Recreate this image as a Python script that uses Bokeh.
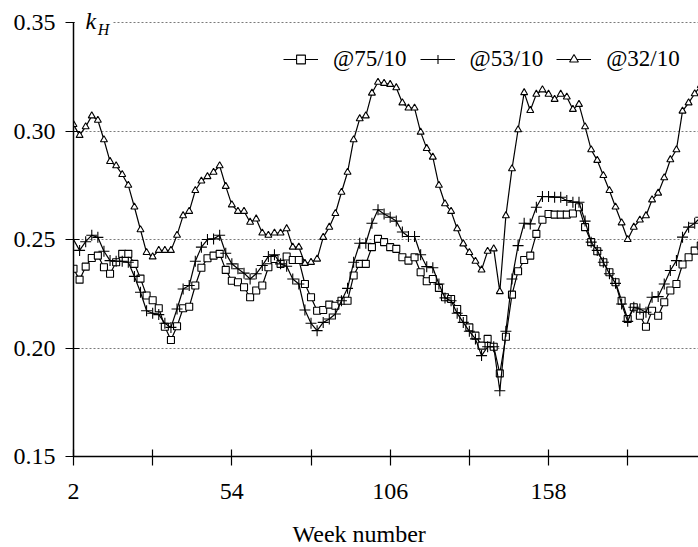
from bokeh.plotting import figure
from bokeh.models import (Range1d, FixedTicker, Legend, LegendItem, Label, Title,
                          BoxAnnotation, PrintfTickFormatter, ColumnDataSource)
from bokeh.embed import file_html
from bokeh.resources import INLINE

weeks = list(range(2, 210, 2))

k_75_10 = [0.2365, 0.2315, 0.2375, 0.2415, 0.2426, 0.2372, 0.2342, 0.2395, 0.2434, 0.2434,
           0.2388, 0.2320, 0.2242, 0.2220, 0.2183, 0.2098, 0.2037, 0.2100, 0.2183, 0.2190,
           0.2288, 0.2370, 0.2414, 0.2426, 0.2434, 0.2360, 0.2310, 0.2303, 0.2280, 0.2234,
           0.2265, 0.2288, 0.2372, 0.2410, 0.2388, 0.2422, 0.2406, 0.2406, 0.2295, 0.2234,
           0.2172, 0.2175, 0.2200, 0.2195, 0.2218, 0.2218, 0.2334, 0.2388, 0.2388, 0.2465,
           0.2503, 0.2488, 0.2465, 0.2457, 0.2418, 0.2403, 0.2418, 0.2349, 0.2308, 0.2318,
           0.2277, 0.2234, 0.2226, 0.2180, 0.2134, 0.2095, 0.2057, 0.2011, 0.2042, 0.2006,
           0.1883, 0.2052, 0.2246, 0.2354, 0.2406, 0.2426, 0.2526, 0.2591, 0.2618, 0.2615,
           0.2615, 0.2615, 0.2620, 0.2649, 0.2557, 0.2488, 0.2446, 0.2395, 0.2349, 0.2303,
           0.2218, 0.2134, 0.2188, 0.2149, 0.2098, 0.2172, 0.2149, 0.2211, 0.2265, 0.2295,
           0.2385, 0.2418, 0.2449, 0.2472]

k_53_10 = [0.2500, 0.2450, 0.2490, 0.2520, 0.2510, 0.2446, 0.2403, 0.2400, 0.2400, 0.2395,
           0.2330, 0.2257, 0.2172, 0.2160, 0.2154, 0.2114, 0.2095, 0.2180, 0.2272, 0.2288,
           0.2400, 0.2465, 0.2500, 0.2503, 0.2520, 0.2437, 0.2388, 0.2365, 0.2345, 0.2318,
           0.2342, 0.2380, 0.2422, 0.2430, 0.2388, 0.2377, 0.2318, 0.2295, 0.2175, 0.2114,
           0.2080, 0.2118, 0.2134, 0.2157, 0.2218, 0.2275, 0.2395, 0.2483, 0.2483, 0.2575,
           0.2637, 0.2618, 0.2603, 0.2585, 0.2535, 0.2514, 0.2514, 0.2430, 0.2375, 0.2370,
           0.2295, 0.2231, 0.2218, 0.2160, 0.2118, 0.2077, 0.2042, 0.1965, 0.2006, 0.2006,
           0.1803, 0.2077, 0.2318, 0.2472, 0.2575, 0.2572, 0.2649, 0.2698, 0.2698, 0.2695,
           0.2695, 0.2680, 0.2672, 0.2672, 0.2585, 0.2488, 0.2450, 0.2395, 0.2342, 0.2298,
           0.2203, 0.2123, 0.2188, 0.2180, 0.2165, 0.2234, 0.2237, 0.2295, 0.2357, 0.2403,
           0.2511, 0.2557, 0.2575, 0.2603]

k_32_10 = [0.3030, 0.2980, 0.3020, 0.3070, 0.3050, 0.2960, 0.2860, 0.2840, 0.2800, 0.2750,
           0.2650, 0.2545, 0.2440, 0.2420, 0.2450, 0.2450, 0.2450, 0.2520, 0.2610, 0.2630,
           0.2726, 0.2770, 0.2790, 0.2810, 0.2840, 0.2745, 0.2660, 0.2630, 0.2630, 0.2580,
           0.2595, 0.2530, 0.2520, 0.2530, 0.2530, 0.2550, 0.2465, 0.2465, 0.2390, 0.2395,
           0.2410, 0.2510, 0.2557, 0.2620, 0.2718, 0.2810, 0.2960, 0.3057, 0.3070, 0.3175,
           0.3225, 0.3220, 0.3215, 0.3200, 0.3130, 0.3106, 0.3106, 0.2995, 0.2920, 0.2880,
           0.2750, 0.2665, 0.2630, 0.2550, 0.2480, 0.2440, 0.2400, 0.2360, 0.2446, 0.2457,
           0.2260, 0.2610, 0.2826, 0.3006, 0.3177, 0.3095, 0.3170, 0.3190, 0.3170, 0.3146,
           0.3170, 0.3157, 0.3100, 0.3123, 0.3020, 0.2914, 0.2865, 0.2795, 0.2726, 0.2650,
           0.2577, 0.2500, 0.2557, 0.2590, 0.2610, 0.2683, 0.2714, 0.2785, 0.2868, 0.2914,
           0.3092, 0.3130, 0.3172, 0.3210]

series_labels = ["@75/10", "@53/10", "@32/10"]
x_tick_values = [2, 54, 106, 158]
x_minor_ticks = [28, 80, 132, 184]
y_tick_values = [0.15, 0.20, 0.25, 0.30, 0.35]

FONT = "Liberation Serif"

p = figure(width=698, height=547, output_backend="svg", toolbar_location=None,
           x_range=Range1d(2, 207.25), y_range=Range1d(0.15, 0.3551),
           min_border_left=73, min_border_right=0, min_border_top=11,
           min_border_bottom=91)
p.title = None
p.outline_line_color = None
p.background_fill_color = "white"
p.border_fill_color = "white"

p.xgrid.visible = False
p.ygrid.grid_line_color = "#7a7a7a"
p.ygrid.grid_line_dash = "2 2"
p.ygrid.grid_line_width = 1

xa = p.xaxis[0]
xa.ticker = FixedTicker(ticks=x_tick_values, minor_ticks=x_minor_ticks)
xa.axis_line_color = "black"
xa.axis_line_width = 1.5
xa.major_tick_in = 7
xa.major_tick_out = 9
xa.minor_tick_in = 7
xa.minor_tick_out = 9
xa.major_tick_line_color = "black"
xa.minor_tick_line_color = "black"
xa.major_tick_line_width = 1.2
xa.minor_tick_line_width = 1.2
xa.major_label_text_font = FONT
xa.major_label_text_font_size = "24px"
xa.major_label_text_color = "black"
xa.major_label_standoff = 18

ya = p.yaxis[0]
ya.ticker = FixedTicker(ticks=y_tick_values)
ya.bounds = (0.15, 0.35)
ya.formatter = PrintfTickFormatter(format="%.2f")
ya.axis_line_color = "black"
ya.axis_line_width = 1.5
ya.major_tick_in = 6
ya.major_tick_out = 8
ya.major_tick_line_width = 1.2
ya.minor_tick_line_color = None
ya.major_label_text_font = FONT
ya.major_label_text_font_size = "24px"
ya.major_label_text_color = "black"
ya.major_label_standoff = 10

src = ColumnDataSource(dict(week=weeks, a=k_75_10, b=k_53_10, c=k_32_10))

l1 = p.line("week", "a", source=src, line_color="black", line_width=1.2)
s1 = p.scatter("week", "a", source=src, marker="square", size=7,
               fill_color="white", line_color="black", line_width=1.1)
l2 = p.line("week", "b", source=src, line_color="black", line_width=1.2)
s2 = p.scatter("week", "b", source=src, marker="cross", size=11,
               line_color="black", line_width=1.1)
l3 = p.line("week", "c", source=src, line_color="black", line_width=1.2)
s3 = p.scatter("week", "c", source=src, marker="triangle", size=7,
               fill_color="white", line_color="black", line_width=1.1)

legend = Legend(items=[LegendItem(label=series_labels[0], renderers=[l1, s1]),
                       LegendItem(label=series_labels[1], renderers=[l2, s2]),
                       LegendItem(label=series_labels[2], renderers=[l3, s3])],
                orientation="horizontal", location=(210, 384))
legend.label_text_font = FONT
legend.label_text_font_size = "23px"
legend.label_text_color = "black"
legend.glyph_width = 35
legend.glyph_height = 22
legend.label_height = 22
legend.spacing = 13
legend.label_standoff = 15
legend.padding = 0
legend.margin = 0
legend.border_line_color = None
legend.background_fill_alpha = 0
p.add_layout(legend)

p.add_layout(BoxAnnotation(left=2.4, right=14.8, bottom=0.3494, top=0.3506,
                           fill_color="white", fill_alpha=1, line_alpha=0))

p.add_layout(Label(x=5.9, y=0.35, y_offset=2, text="k", text_font=FONT,
                   text_font_size="24px", text_font_style="italic",
                   text_color="black", text_baseline="alphabetic"))
p.add_layout(Label(x=10.0, y=0.35, y_offset=-7, text="H", text_font=FONT,
                   text_font_size="16px", text_font_style="italic",
                   text_color="black", text_baseline="alphabetic"))

# thin spacer between the tick labels and the axis title
p.add_layout(Title(text=" ", text_font_size="1px", standoff=14), "below")
p.add_layout(Title(text="Week number", align="left", offset=219, text_font=FONT,
                   text_font_size="24px", text_font_style="normal",
                   text_color="black", standoff=0), "below")

open("out.html", "w").write(file_html(p, INLINE))
